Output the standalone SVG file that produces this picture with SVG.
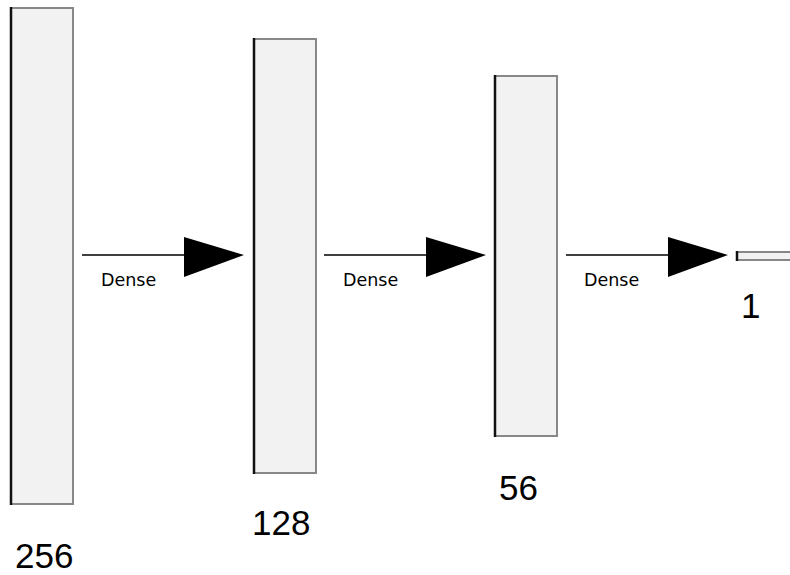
<svg xmlns="http://www.w3.org/2000/svg" width="790" height="575" viewBox="0 0 790 575">
  <style>
    .layer { fill: #f2f2f2; stroke: #888; stroke-width: 2; }
    .edge { stroke: #111; stroke-width: 2.5; }
    .lbl { font-family: "Liberation Sans", Arial, sans-serif; font-size: 35px; fill: #000; }
    .op { font-family: "DejaVu Sans", sans-serif; font-size: 17.5px; fill: #000; }
    .conn { stroke: #000; stroke-width: 1.3; }
    .head { fill: #000; }
  </style>

  <g id="layer-256">
    <rect class="layer" x="11" y="8" width="62" height="496"/>
    <line class="edge" x1="11" y1="7" x2="11" y2="505"/>
    <text class="lbl" x="15" y="568">256</text>
  </g>

  <g id="layer-128">
    <rect class="layer" x="254" y="39" width="62" height="434"/>
    <line class="edge" x1="254" y1="38" x2="254" y2="474"/>
    <text class="lbl" x="252" y="535">128</text>
  </g>

  <g id="layer-56">
    <rect class="layer" x="495" y="76" width="62" height="360"/>
    <line class="edge" x1="495" y1="75" x2="495" y2="437"/>
    <text class="lbl" x="499" y="500">56</text>
  </g>

  <g id="layer-1">
    <rect class="layer" x="737" y="252" width="60" height="8"/>
    <line class="edge" x1="737" y1="251" x2="737" y2="261"/>
    <text class="lbl" x="741" y="318">1</text>
  </g>

  <g id="connectors">
    <line class="conn" x1="82" y1="255" x2="186" y2="255"/>
    <polygon class="head" points="184,237 244,255 184,277"/>
    <text class="op" x="101" y="286">Dense</text>

    <line class="conn" x1="324" y1="255" x2="428" y2="255"/>
    <polygon class="head" points="426,237 486,255 426,277"/>
    <text class="op" x="343" y="286">Dense</text>

    <line class="conn" x1="566" y1="255" x2="670" y2="255"/>
    <polygon class="head" points="668,237 728,255 668,277"/>
    <text class="op" x="584" y="286">Dense</text>
  </g>
</svg>
